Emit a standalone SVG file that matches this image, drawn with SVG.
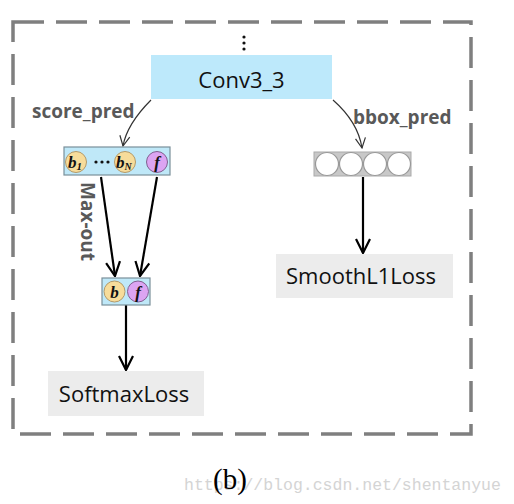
<svg xmlns="http://www.w3.org/2000/svg" width="514" height="504" viewBox="0 0 514 504">
<defs>
<style>
.lbl{font-family:"Open Sans","Liberation Sans",sans-serif;font-weight:bold;fill:#595959;font-size:19px}
.box{font-family:"Open Sans","Liberation Sans",sans-serif;fill:#111;font-size:22px}
.var{font-family:"Liberation Serif",serif;font-style:italic;font-weight:bold;fill:#111;font-size:17px}
.thin{fill:none;stroke:#333;stroke-width:1.2}
.thick{fill:none;stroke:#000;stroke-width:2.2}
.yc{fill:#f7dc9a;stroke:#b39a6a;stroke-width:1}
.pc{fill:#dca4f2;stroke:#80608f;stroke-width:1}
.wc{fill:#fff;stroke:#999;stroke-width:1.2}
</style>
<marker id="ah" viewBox="0 0 12 12" refX="11" refY="6" markerWidth="12" markerHeight="12" markerUnits="userSpaceOnUse" orient="auto">
<path d="M1,1 L11,6 L1,11" fill="none" stroke="#333" stroke-width="1.2"/>
</marker>
<marker id="ahb" viewBox="0 0 16 16" refX="15" refY="8" markerWidth="16" markerHeight="16" markerUnits="userSpaceOnUse" orient="auto">
<path d="M1,1 L15,8 L1,15" fill="none" stroke="#000" stroke-width="2.2"/>
</marker>
</defs>
<rect width="514" height="504" fill="#fff"/>
<rect id="frame" x="13" y="22" width="458" height="412" fill="none" stroke="#7f7f7f" stroke-width="3.5" stroke-dasharray="31 12"/>

<g id="dots">
<circle cx="244" cy="37" r="1.6" fill="#111"/>
<circle cx="244" cy="43" r="1.6" fill="#111"/>
<circle cx="244" cy="49" r="1.6" fill="#111"/>
</g>

<g id="conv">
<rect x="151" y="55" width="181" height="44" fill="#bde9fb"/>
<text class="box" x="241.5" y="88" text-anchor="middle" font-size="28">Conv3_3</text>
</g>

<g id="connectors">
<path class="thin" d="M151,100 Q127,124 123,146" marker-end="url(#ah)"/>
<path class="thin" d="M333,100 Q358,122 362,148" marker-end="url(#ah)"/>
<path class="thick" d="M101,177 L115,276" marker-end="url(#ahb)"/>
<path class="thick" d="M157,177 L140,276" marker-end="url(#ahb)"/>
<path class="thick" d="M363,177 L363,253" marker-end="url(#ahb)"/>
<path class="thick" d="M126,305 L126,370" marker-end="url(#ahb)"/>
</g>

<g id="labels">
<text class="lbl" x="32" y="118">score_pred</text>
<text class="lbl" x="353" y="124">bbox_pred</text>
<text class="lbl" font-size="20" transform="translate(81,182) rotate(90)">Max-out</text>
</g>

<g id="score">
<rect x="64" y="147" width="106" height="28" fill="#bfe8f8" stroke="#7a8f9a" stroke-width="1.2"/>
<circle class="yc" cx="76" cy="162" r="10.5"/>
<circle class="yc" cx="125" cy="162" r="10.5"/>
<circle class="pc" cx="157" cy="162" r="10.5"/>
<text class="var" x="68" y="168">b<tspan font-size="11" dy="2">1</tspan></text>
<text class="var" x="116" y="168">b<tspan font-size="10" dy="2">N</tspan></text>
<text class="var" x="157" y="168" text-anchor="middle">f</text>
<circle cx="96" cy="162" r="1.6" fill="#111"/>
<circle cx="102" cy="162" r="1.6" fill="#111"/>
<circle cx="108" cy="162" r="1.6" fill="#111"/>
</g>

<g id="maxout">
<rect x="102" y="278" width="48" height="27" fill="#bfe8f8" stroke="#7a8f9a" stroke-width="1.2"/>
<circle class="yc" cx="114.5" cy="291.5" r="10.5"/>
<circle class="pc" cx="138" cy="291.5" r="10.5"/>
<text class="var" x="114.5" y="297.5" text-anchor="middle">b</text>
<text class="var" x="138" y="297.5" text-anchor="middle">f</text>
</g>

<g id="bbox">
<rect x="314" y="152" width="97" height="24" fill="#c8c8c8" stroke="#aaa" stroke-width="1"/>
<circle class="wc" cx="327" cy="164" r="11.5"/>
<circle class="wc" cx="351" cy="164" r="11.5"/>
<circle class="wc" cx="375" cy="164" r="11.5"/>
<circle class="wc" cx="399" cy="164" r="11.5"/>
</g>

<g id="smooth">
<rect x="276" y="254" width="177" height="44" fill="#ececec"/>
<text class="box" x="361" y="284" text-anchor="middle">SmoothL1Loss</text>
</g>

<g id="softmax">
<rect x="48" y="371" width="156" height="45" fill="#ececec"/>
<text class="box" x="124" y="402" text-anchor="middle">SoftmaxLoss</text>
</g>

<text x="184" y="490" font-family="Liberation Mono,monospace" font-size="16.5" fill="#d4d4d4">https://blog.csdn.net/shentanyue</text>
<text x="230" y="489" font-family="Liberation Serif,serif" font-size="29" fill="#000" text-anchor="middle">(b)</text>
</svg>
